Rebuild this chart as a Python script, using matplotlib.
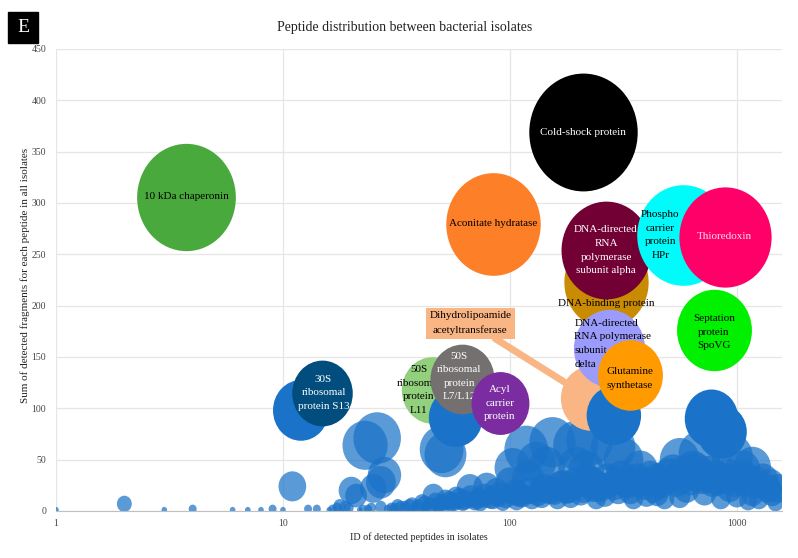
import numpy as np
import matplotlib
matplotlib.use("Agg")
import matplotlib.pyplot as plt
from matplotlib.path import Path
from matplotlib.patches import Rectangle

plt.rcParams["font.family"] = ["Liberation Serif", "DejaVu Serif"]

# bubble size in the source chart equals the y value
# unlabelled peptides (translucent series)
blue_x = [1, 2, 3, 4, 6, 7, 8, 9, 10,
          11, 12.9, 14.1, 16, 17.3, 17.8, 18.8,
          20, 21, 21.8, 23.7, 23, 26, 28, 27, 25,
          29, 31, 33, 36, 38, 41, 43, 46, 48,
          50, 52, 52, 55, 58, 62, 66.6, 70, 74, 79, 84, 87, 93,
          100, 103, 107, 110, 118, 120, 125, 131, 138, 145, 150, 154, 162, 170,
          178, 185, 195, 197, 205, 217, 217, 225, 232, 240, 250, 262, 285, 300,
          316, 340, 350, 375, 400, 430, 445, 445, 480, 524, 560, 560, 600, 640,
          686, 720, 785, 850, 930, 955, 1000, 1060, 1120, 1170, 1170, 1250,
          1370, 1430, 1480,
          16.5, 19.5, 22.5, 24.5, 27, 30, 32, 34.5, 37, 39.5,
          42, 45, 47, 49, 51, 54, 57, 60, 63, 67,
          72, 77, 82, 89, 96, 105, 113, 122, 133, 142,
          157, 167, 180, 190, 210, 228, 245, 270, 290, 310,
          330, 365, 390, 415, 460, 500, 540, 580, 620, 660,
          700, 760, 820, 900, 980, 1080, 1200, 1300, 1400, 1520]
blue_y = [1, 7, 1, 2, 1, 1, 1, 2, 1,
          24, 2, 2, 1, 3, 5, 4,
          20, 15, 1, 2, 64, 71, 35, 28, 22,
          2, 3, 4, 5, 3, 8, 4, 15, 6,
          60, 55, 11, 7, 13, 9, 22, 10, 8, 23, 12, 19, 9,
          27, 42, 10, 16, 60, 32, 12, 47, 14, 43, 20, 67, 12, 25,
          21, 14, 64, 43, 18, 30, 40, 69, 23, 12, 23, 16, 62, 20,
          50, 20, 12, 40, 16, 22, 30, 17, 12, 37, 50, 14, 22, 40,
          56, 18, 30, 12, 23, 53, 15, 40, 10, 43, 17, 12,
          22, 17, 8,
          2, 3, 2, 3, 4, 3, 5, 4, 6, 5,
          7, 6, 9, 7, 8, 10, 9, 12, 11, 14,
          12, 15, 13, 16, 14, 18, 15, 20, 17, 22,
          19, 24, 21, 26, 22, 28, 24, 30, 26, 32,
          28, 30, 26, 32, 28, 34, 30, 36, 32, 38,
          34, 36, 32, 34, 30, 32, 28, 30, 26, 22]

# unlabelled peptides (opaque series)
solid_x = [12, 57.7, 287, 773, 860]
solid_y = [98, 91, 93, 90, 77]

# named proteins, in drawing order
names = ["Dihydrolipoamide\nacetyltransferase",
         "50S\nribosomal\nprotein\nL11",
         "10 kDa chaperonin",
         "30S\nribosomal\nprotein S13",
         "50S\nribosomal\nprotein\nL7/L12",
         "Acyl\ncarrier\nprotein",
         "Aconitate hydratase",
         "Cold-shock protein",
         "DNA-binding protein",
         "DNA-directed\nRNA\npolymerase\nsubunit alpha",
         "DNA-directed\nRNA polymerase\nsubunit\ndelta",
         "Glutamine\nsynthetase",
         "Phospho\ncarrier\nprotein\nHPr",
         "Thioredoxin",
         "Septation\nprotein\nSpoVG"]
named_x = [225, 45.3, 3.75, 14.8, 61.5, 90.4, 84, 210, 265, 265, 273, 338, 580, 885, 792]
named_y = [110, 118, 306, 115, 129, 105, 280, 369, 223, 254, 159, 132, 269, 267, 176]

colors = ["#fab584", "#92d07e", "#4aa93c", "#004d7e", "#747070", "#7b2ca0",
          "#fd7f28", "#000000", "#c98b02", "#730034", "#9b9bfb", "#ff9a00",
          "#00fbfb", "#ff0068", "#00f000"]
text_colors = ["black", "black", "black", "white", "white", "white",
               "black", "white", "black", "white", "black", "black",
               "black", "#ffe0ee", "black"]
zorders = [2.5, 2.8, 4, 4, 4.1, 4.2, 4, 4, 4, 4.1, 4.2, 4.3, 4.2, 4.3, 4]
# label offsets in pixels (dx, dy)
offsets = [(0, 0), (-13, 0), (0, 0), (2, 0), (-3, 2), (0, 0), (0, 0), (0, 0),
           (0, -21), (0, 0), (4, 4), (0, -3), (-23, 0), (0, 0), (0, -2)]

# ellipse marker (bubbles are a bit taller than wide)
circ = Path.unit_circle()
ell = Path(circ.vertices * np.array([0.92, 1.0]), circ.codes)


def bubble_s(y):
    d_px = 118 * np.sqrt(np.asarray(y, dtype=float) / 370.0)
    return (d_px * 0.72) ** 2


fig = plt.figure(figsize=(7.98, 5.58), dpi=100)
ax = fig.add_axes([56 / 798, 1 - 511 / 558, 726 / 798, 462 / 558])

ax.scatter(blue_x, blue_y, s=bubble_s(blue_y), marker=ell, color="#1a73c8",
           alpha=0.72, linewidths=0, zorder=2)
ax.scatter(solid_x, solid_y, s=bubble_s(solid_y), marker=ell, color="#1a73c8",
           linewidths=0, zorder=3)

for i, name in enumerate(names):
    ax.scatter([named_x[i]], [named_y[i]], s=bubble_s([named_y[i]]), marker=ell,
               color=colors[i], linewidths=0, zorder=zorders[i])
    if i == 0:
        ax.annotate(name, xy=(named_x[i], named_y[i]), xytext=(-86, 54),
                    textcoords="offset points", ha="center", va="center",
                    fontsize=8, color="black", zorder=2.4, linespacing=1.6,
                    bbox=dict(boxstyle="square,pad=0.35", fc=colors[i], ec="none"),
                    arrowprops=dict(arrowstyle="-", color=colors[i], lw=5,
                                    shrinkA=0, shrinkB=0))
        continue
    dx, dy = offsets[i]
    ax.annotate(name, xy=(named_x[i], named_y[i]), xytext=(dx * 0.72, dy * 0.72),
                textcoords="offset points", ha="center", va="center",
                multialignment="left" if i == 10 else "center",
                fontsize=8, color=text_colors[i], zorder=zorders[i] + 0.05,
                linespacing=1.65)

ax.set_xscale("log")
ax.set_xlim(1, 1580)
ax.set_ylim(0, 450)
ax.set_yticks(np.arange(0, 451, 50))
ax.set_xticks([1, 10, 100, 1000])
ax.set_xticklabels(["1", "10", "100", "1000"])
ax.minorticks_off()
ax.tick_params(length=0, labelsize=7, colors="#454545")
ax.tick_params(axis="y", pad=7)
ax.tick_params(axis="x", pad=6)
ax.grid(True, color="#e6e6e6", lw=0.9, zorder=0)
ax.set_axisbelow(True)
for sp in ["top", "right", "left"]:
    ax.spines[sp].set_visible(False)
ax.spines["bottom"].set_color("#c0c0c0")
ax.spines["bottom"].set_zorder(6)

fig.text(0.5075, 0.95, "Peptide distribution between bacterial isolates",
         ha="center", va="center", fontsize=10, color="#222222")
fig.text(0.525, 0.037, "ID of detected peptides in isolates",
         ha="center", va="center", fontsize=7.3, color="#222222")
fig.text(0.032, 0.507, "Sum of detected fragments for each peptide in all isolates",
         ha="center", va="center", rotation=90, fontsize=8, color="#222222")

fig.add_artist(Rectangle((8 / 798, 1 - 43 / 558), 30 / 798, 31 / 558,
                         transform=fig.transFigure, color="black"))
fig.text(23 / 798, 1 - 28 / 558, "E", ha="center", va="center",
         fontsize=14, color="white")

fig.savefig("out.png", dpi=100)
